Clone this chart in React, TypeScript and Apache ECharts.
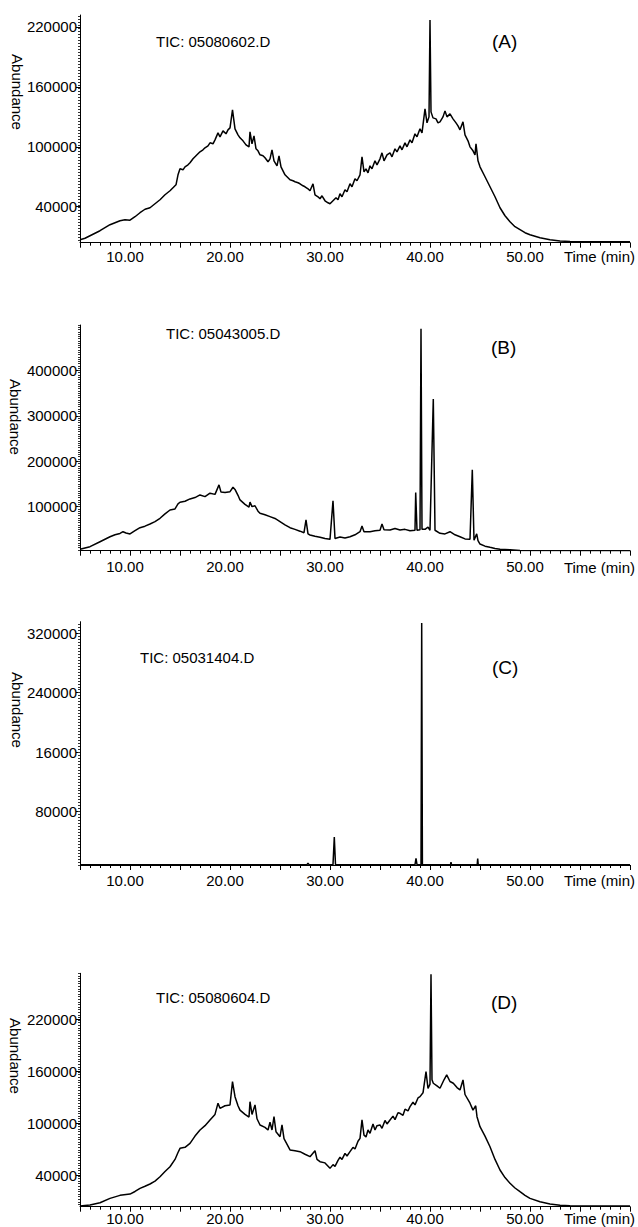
import React, { useEffect, useRef } from "react";
import * as echarts from "echarts";

// ---------- Data: [time (min), abundance] ----------
const traceA: [number, number][] = [
  [5,7000],[5.5,8500],[6,11000],[6.5,13500],[7,16000],[7.5,19000],[8,22000],[8.5,24000],[9,26000],[9.5,27000],[10,26500],
  [10.5,30000],[11,34000],[11.5,37500],[12,39000],[12.5,43000],[13,47000],[13.5,52000],[14,56000],[14.3,59000],[14.6,62000],
  [14.8,72000],[15,78000],[15.3,77000],[15.5,80000],[15.8,82000],[16,84000],[16.3,88000],[16.5,90000],[16.8,93000],[17,95000],
  [17.3,97000],[17.5,99000],[17.8,101000],[18,104000],[18.3,103000],[18.5,107000],[18.8,114000],[19,110000],[19.3,116000],
  [19.6,113000],[19.8,117000],[20,119000],[20.25,137000],[20.5,118000],[20.8,112000],[21,109000],[21.3,106000],[21.6,102000],
  [21.9,100000],[22,115000],[22.2,103000],[22.4,111000],[22.6,98000],[22.8,96000],[23,92000],[23.3,91000],[23.5,89000],
  [23.8,85000],[24,88000],[24.2,97000],[24.4,86000],[24.7,81000],[24.9,91000],[25.1,80000],[25.3,76000],[25.5,72000],
  [25.8,69000],[26,67000],[26.3,66000],[26.5,65000],[26.8,64000],[27,63000],[27.3,61000],[27.5,60000],[27.8,58000],[28,56000],
  [28.3,63000],[28.5,52000],[28.8,50000],[29,48000],[29.2,51000],[29.5,46000],[29.8,44000],[30,43000],[30.3,46000],[30.6,49000],
  [30.8,47000],[31,53000],[31.2,50000],[31.5,57000],[31.7,55000],[32,63000],[32.2,60000],[32.5,68000],[32.7,66000],[33,72000],
  [33.2,90000],[33.4,75000],[33.6,78000],[33.8,74000],[34,81000],[34.2,78000],[34.5,86000],[34.7,82000],[35,88000],[35.2,94000],
  [35.4,86000],[35.7,92000],[36,94000],[36.2,90000],[36.5,98000],[36.7,95000],[37,101000],[37.2,97000],[37.5,104000],
  [37.7,100000],[38,107000],[38.2,104000],[38.5,113000],[38.7,110000],[39,118000],[39.2,114000],[39.3,122000],[39.5,138000],
  [39.7,124000],[39.9,130000],[40,227000],[40.1,135000],[40.3,129000],[40.6,128000],[40.8,124000],[41,125000],[41.3,130000],
  [41.5,136000],[41.7,130000],[42,133000],[42.3,128000],[42.6,124000],[42.8,121000],[43,117000],[43.3,125000],[43.5,112000],
  [43.8,106000],[44,100000],[44.3,96000],[44.5,92000],[44.6,103000],[44.8,86000],[45,80000],[45.5,70000],[46,60000],
  [46.5,50000],[47,39000],[47.5,31000],[48,25000],[48.5,20000],[49,17000],[49.5,14000],[50,12000],[50.5,10500],[51,9000],
  [52,7000],[53,5800],[54,5200],[55,5000],[60,5000],
];

const traceB: [number, number][] = [
  [5,6000],[6,11800],[7,22800],[8,33800],[8.5,38000],[9,41000],[9.3,44800],[9.6,42000],[10,39800],[10.5,47000],[11,53700],
  [11.5,57000],[12,61800],[12.5,67000],[13,74400],[13.5,84000],[14,92700],[14.5,95000],[14.8,106000],[15,109700],[15.5,112000],
  [16,117000],[16.5,120000],[17,125800],[17.5,122000],[18,129600],[18.5,127000],[18.9,147900],[19.1,132000],[19.5,131000],
  [20,133000],[20.3,142800],[20.5,138000],[20.8,125000],[21,114800],[21.5,105000],[21.9,99000],[22,110000],[22.2,100000],
  [22.5,102000],[22.8,90000],[23,85400],[23.5,82000],[24,78000],[24.5,74000],[25,67000],[25.5,60000],[26,53700],[26.5,50000],
  [27,46000],[27.4,42600],[27.6,70700],[27.8,40000],[28,37600],[28.5,35000],[29,32500],[29.5,30000],[30,28000],[30.3,113000],
  [30.5,30000],[31,33000],[31.5,31000],[32,33800],[32.5,38000],[33,44800],[33.2,57400],[33.4,45000],[34,44800],[34.5,47000],
  [35,48000],[35.2,61800],[35.4,49000],[36,48600],[36.5,52000],[37,48600],[37.5,50000],[38,47000],[38.5,48000],[38.57,131000],
  [38.7,48000],[39,49000],[39.1,492000],[39.2,50000],[39.5,50000],[39.8,55000],[40,48000],[40.33,337000],[40.5,48000],
  [41,41300],[41.5,40000],[42,44800],[42.5,38000],[43,33800],[43.5,29000],[44,28000],[44.23,181000],[44.4,26000],[44.67,40000],
  [44.8,25000],[45,17700],[45.5,13000],[46,10400],[46.5,8000],[47,6000],[48,5000],[49,3500],[60,3000],
];

const traceC: [number, number][] = [
  [5,8500],[27.7,8500],[27.8,10500],[27.9,8500],[30.3,8500],[30.43,45500],[30.55,8500],[38.5,8500],[38.6,17000],[38.7,8500],
  [39.1,8500],[39.17,334000],[39.24,8500],[42.05,8500],[42.1,12000],[42.15,8500],[44.72,8500],[44.77,16500],[44.82,8500],[60,8500],
];

const traceD: [number, number][] = [
  [5,4200],[6,5300],[7,8000],[8,13000],[9,16500],[10,18000],[10.5,21000],[11,24600],[11.5,27000],[12,29600],[12.5,33000],
  [13,38000],[13.5,44000],[14,49600],[14.5,58000],[14.8,66000],[15,70800],[15.5,72000],[16,76600],[16.5,85000],[17,92000],
  [17.5,97000],[18,103600],[18.5,110000],[18.8,123000],[19,117000],[19.5,120000],[20,121000],[20.25,148000],[20.5,130500],
  [20.8,120000],[21,115000],[21.5,110000],[21.9,107000],[22,124700],[22.2,110000],[22.5,121000],[22.7,105000],[23,97800],
  [23.5,95000],[23.8,92000],[24,101000],[24.2,92000],[24.4,107400],[24.6,90000],[25,84300],[25.2,97800],[25.4,82000],
  [26,69000],[26.5,68000],[27,67000],[27.5,64000],[28,61200],[28.5,68000],[28.7,58000],[29,55400],[29.5,54000],[30,47700],
  [30.3,52000],[30.5,50000],[30.8,57000],[31,60500],[31.2,58000],[31.5,65000],[31.7,62000],[32,67000],[32.3,72000],[32.5,70000],
  [32.8,79000],[33,82400],[33.2,103600],[33.4,86000],[33.6,84000],[33.8,92000],[34,88200],[34.3,99000],[34.5,92000],
  [34.7,97000],[35,97800],[35.2,94000],[35.5,103000],[35.7,99000],[36,103600],[36.3,108000],[36.5,104000],[36.8,112000],
  [37,111300],[37.3,109000],[37.5,116000],[37.8,114000],[38,119000],[38.3,124000],[38.5,121000],[38.8,129000],[39,130500],
  [39.3,135000],[39.6,159400],[39.8,140000],[40,145000],[40.1,272000],[40.2,150000],[40.33,146000],[40.7,143000],[41,140200],
  [41.4,150000],[41.67,155600],[42,148000],[42.33,146000],[42.7,141000],[43,138300],[43.3,149800],[43.5,133000],[44,122900],
  [44.3,115000],[44.57,120000],[44.7,107400],[45,95800],[45.5,85000],[46,72700],[46.5,58000],[47,45800],[47.5,37000],
  [48,30400],[48.5,25000],[49,20700],[49.5,16500],[50,13000],[51,9100],[52,6500],[53,5000],[54,4400],[60,4200],
];

// ---------- Tick labels ----------
const xLabelValues = [10, 20, 30, 40, 50];
const yTicksA = [40000, 100000, 160000, 220000];
const yLabelsA = ["40000", "100000", "160000", "220000"];
const yTicksB = [100000, 200000, 300000, 400000];
const yLabelsB = ["100000", "200000", "300000", "400000"];
const yTicksC = [80000, 160000, 240000, 320000];
const yLabelsC = ["80000", "16000", "240000", "320000"];
const yTicksD = [40000, 100000, 160000, 220000];
const yLabelsD = ["40000", "100000", "160000", "220000"];

const fileNames = ["TIC: 05080602.D", "TIC: 05043005.D", "TIC: 05031404.D", "TIC: 05080604.D"];
const panelTags = ["(A)", "(B)", "(C)", "(D)"];

const FONT = "'Liberation Sans', Arial, sans-serif";

export default function App() {
  const ref = useRef<HTMLDivElement>(null);
  useEffect(() => {
    if (!ref.current) return;
    const chart = echarts.init(ref.current, null, { renderer: "svg" });

    const panels = [
      { data: traceA, ticks: yTicksA, labels: yLabelsA, top: 15, height: 227.7, min: 4000, max: 232000, minor: 3000,
        tic: [156, 41], tag: [492, 41], abund: [17, 92], timeY: 256, xMargin: 6 },
      { data: traceB, ticks: yTicksB, labels: yLabelsB, top: 325, height: 225.7, min: 3000, max: 500000, minor: 5000,
        tic: [166, 333], tag: [491, 347], abund: [15, 417], timeY: 567, xMargin: 8 },
      { data: traceC, ticks: yTicksC, labels: yLabelsC, top: 621.7, height: 243.3, min: 8000, max: 335600, minor: 4000,
        tic: [140, 657], tag: [492, 667], abund: [17, 710], timeY: 880, xMargin: 8 },
      { data: traceD, ticks: yTicksD, labels: yLabelsD, top: 973.3, height: 233.4, min: 3400, max: 273000, minor: 3000,
        tic: [156, 997], tag: [491, 1002], abund: [15, 1056], timeY: 1218, xMargin: 4 },
    ];

    const grid: any[] = [];
    const xAxis: any[] = [];
    const yAxis: any[] = [];
    const series: any[] = [];
    const graphic: any[] = [];

    panels.forEach((p, i) => {
      grid.push({ left: 80, width: 550, top: p.top, height: p.height });
      xAxis.push({
        type: "value", gridIndex: i, min: 5, max: 60, interval: 5,
        axisLine: { show: true, lineStyle: { color: "#000", width: 1 } },
        axisTick: { show: true, length: 5, lineStyle: { color: "#000" } },
        minorTick: { show: true, splitNumber: 5, length: 3, lineStyle: { color: "#000" } },
        splitLine: { show: false },
        axisLabel: {
          customValues: xLabelValues, formatter: (v: number) => v.toFixed(2),
          color: "#000", fontSize: 15, fontFamily: FONT, margin: p.xMargin, padding: [0, 10, 0, 0],
        },
      });
      const minorVals: number[] = [];
      for (let v = Math.ceil(p.min / p.minor) * p.minor; v <= p.max; v += p.minor) minorVals.push(v);
      yAxis.push({
        type: "value", gridIndex: i, min: p.min, max: p.max,
        axisLine: { show: true, lineStyle: { color: "#000", width: 1 } },
        axisTick: { show: true, customValues: p.ticks, length: 4, lineStyle: { color: "#000" } },
        splitLine: { show: false },
        axisLabel: {
          customValues: p.ticks,
          formatter: (v: number) => { const k = p.ticks.indexOf(v); return k >= 0 ? p.labels[k] : ""; },
          color: "#000", fontSize: 15, fontFamily: FONT, margin: 3,
        },
      });
      yAxis.push({
        type: "value", gridIndex: i, min: p.min, max: p.max, position: "left",
        axisLine: { show: false },
        axisTick: { show: true, customValues: minorVals, length: 2, lineStyle: { color: "#333" } },
        axisLabel: { show: false },
        splitLine: { show: false },
      });
      series.push({
        type: "line", xAxisIndex: i, yAxisIndex: 2 * i,
        data: p.data,
        showSymbol: false, symbol: "none",
        lineStyle: { color: "#000", width: 1.5 },
        silent: true,
      });
      graphic.push(
        { type: "text", x: p.tic[0], y: p.tic[1], style: { text: fileNames[i], fill: "#000", font: `15px ${FONT}`, textAlign: "left", textVerticalAlign: "middle" } },
        { type: "text", x: p.tag[0], y: p.tag[1], style: { text: panelTags[i], fill: "#000", font: `19px ${FONT}`, textAlign: "left", textVerticalAlign: "middle" } },
        { type: "text", x: p.abund[0], y: p.abund[1], rotation: -Math.PI / 2, style: { text: "Abundance", fill: "#000", font: `15px ${FONT}`, textAlign: "center", textVerticalAlign: "middle" } },
        { type: "text", x: 635, y: p.timeY, style: { text: "Time (min)", fill: "#000", font: `15px ${FONT}`, textAlign: "right", textVerticalAlign: "middle" } },
      );
    });

    chart.setOption({
      animation: false,
      backgroundColor: "#fff",
      grid, xAxis, yAxis, series, graphic,
    });
    return () => chart.dispose();
  }, []);

  return <div ref={ref} style={{ position: "absolute", left: 0, top: 0, width: 638, height: 1227 }} />;
}
